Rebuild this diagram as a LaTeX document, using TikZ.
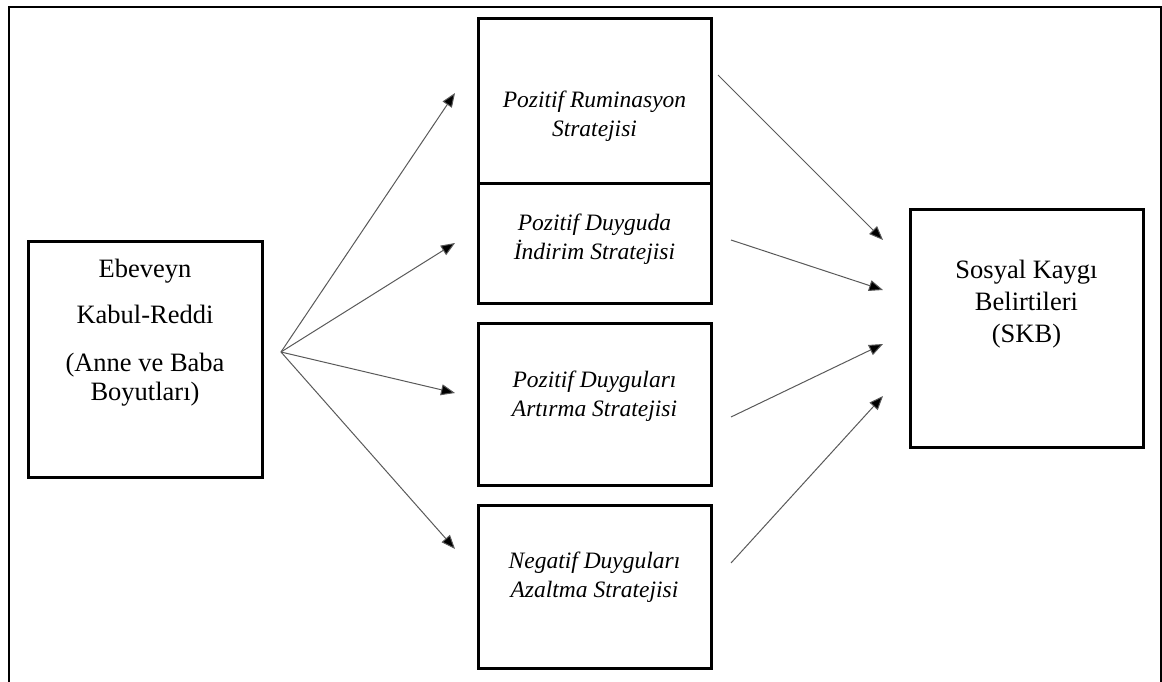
\documentclass[tikz,border=0pt]{standalone}
\usepackage{fontspec}
\setmainfont{Liberation Serif}
\usetikzlibrary{arrows.meta}
\begin{document}
\begin{tikzpicture}[x=1pt,y=-1pt,
  box/.style={draw, line width=3pt, inner sep=0pt, minimum width=233pt},
  lbl/.style={align=center, inner sep=0pt, anchor=base, font=\fontsize{26.5}{32}\selectfont},
  ilbl/.style={align=center, inner sep=0pt, anchor=base, font=\fontsize{23.5}{29}\selectfont\itshape},
  link/.style={draw=black!65, line width=1pt, -{Triangle[length=14pt,width=11pt,fill=black]}}
]
\useasboundingbox (0,0) rectangle (1162,682);

% outer frame (open at the bottom)
\draw[line width=2pt] (8.5,682) -- (8.5,7.5) -- (1160.5,7.5) -- (1160.5,682);

% boxes
\node[box, minimum width=234pt, minimum height=236pt] (src) at (145,359) {};
\node[box, minimum height=164pt] (rum) at (594.5,101) {};
\node[box, minimum height=120pt] (ind) at (594.5,243) {};
\node[box, minimum height=162pt] (art) at (594.5,404) {};
\node[box, minimum height=163pt] (azl) at (594.5,586.5) {};
\node[box, minimum height=238pt] (skb) at (1026.5,328) {};

% box texts (anchored at the baseline of their last line)
\node[lbl] (srctxt) at (145,400) {Ebeveyn\\[14pt]Kabul-Reddi\\[16pt](Anne ve Baba\\[-3pt]Boyutları)};
\node[ilbl] (rumtxt) at (594.5,137) {Pozitif Ruminasyon\\Stratejisi};
\node[ilbl] (indtxt) at (594.5,259) {Pozitif Duyguda\\İndirim Stratejisi};
\node[ilbl] (arttxt) at (594.5,416) {Pozitif Duyguları\\Artırma Stratejisi};
\node[ilbl] (azltxt) at (594.5,597) {Negatif Duyguları\\Azaltma Stratejisi};
\node[lbl] (skbtxt) at (1026.5,342) {Sosyal Kaygı\\Belirtileri\\(SKB)};

% connector end points
\coordinate (hub) at (281,352);
\coordinate (rumin) at (455,93);
\coordinate (indin) at (455,243);
\coordinate (artin) at (455,393);
\coordinate (azlin) at (455,549);
\coordinate (rumout) at (718,75);
\coordinate (indout) at (731,240);
\coordinate (artout) at (731,417);
\coordinate (azlout) at (731,563);
\coordinate (skbin1) at (883,240);
\coordinate (skbin2) at (883,290);
\coordinate (skbin3) at (883,344);
\coordinate (skbin4) at (883,396);

% connectors
\draw[link] (hub) -- (rumin);
\draw[link] (hub) -- (indin);
\draw[link] (hub) -- (artin);
\draw[link] (hub) -- (azlin);
\draw[link] (rumout) -- (skbin1);
\draw[link] (indout) -- (skbin2);
\draw[link] (artout) -- (skbin3);
\draw[link] (azlout) -- (skbin4);
\end{tikzpicture}
\end{document}
